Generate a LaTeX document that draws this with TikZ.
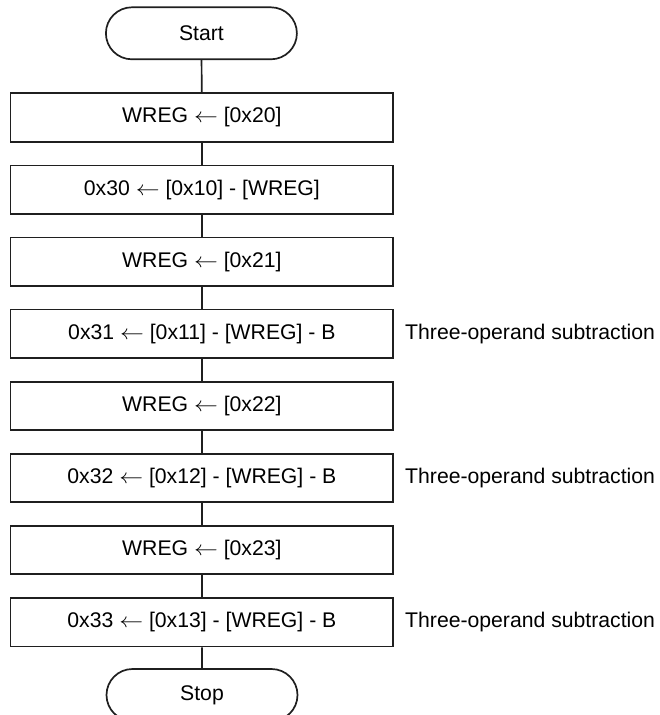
\documentclass[tikz,border=0pt]{standalone}
\usepackage{fontspec}
\usepackage{graphicx}
\setmainfont{Liberation Sans}
\usetikzlibrary{shapes.misc}
\tikzset{
  flowline/.style={line width=1.7pt, draw=black!88},
  opbox/.style={flowline, rectangle, minimum width=382.8pt, minimum height=48.4pt,
    inner sep=0pt, font=\fontsize{21.2}{25}\selectfont},
  terminal/.style={flowline, rounded rectangle, minimum width=191pt, minimum height=52pt,
    inner sep=0pt, font=\fontsize{21.2}{25}\selectfont},
  note/.style={anchor=west, inner sep=0pt, font=\fontsize{21.2}{25}\selectfont}
}
\newcommand{\asg}{ \scalebox{1.15}[1]{$\leftarrow$} }
\begin{document}
\begin{tikzpicture}[x=1pt,y=-1pt]
  \useasboundingbox (0,0) rectangle (659,715);
  \begin{scope}
  \clip (0,0) rectangle (659,715);
  \node[terminal] (start) at (201.4,33.3) {Start};
  \node[opbox] (b1) at (201.9,117.5) {WREG\asg[0x20]};
  \node[opbox] (b2) at (201.9,189.6) {0x30\asg[0x10] - [WREG]};
  \node[opbox] (b3) at (201.9,261.7) {WREG\asg[0x21]};
  \node[opbox] (b4) at (201.9,333.8) {0x31\asg[0x11] - [WREG] - B};
  \node[opbox] (b5) at (201.9,405.9) {WREG\asg[0x22]};
  \node[opbox] (b6) at (201.9,478.0) {0x32\asg[0x12] - [WREG] - B};
  \node[opbox] (b7) at (201.9,550.1) {WREG\asg[0x23]};
  \node[opbox] (b8) at (201.9,622.2) {0x33\asg[0x13] - [WREG] - B};
  \node[terminal] (stop) at (202,695) {Stop};

  \node[note] (n4) at (405,333.8) {Three-operand subtraction};
  \node[note] (n6) at (405,478.0) {Three-operand subtraction};
  \node[note] (n8) at (405,622.2) {Three-operand subtraction};

  \draw[flowline] (start) -- (b1);
  \foreach \a/\b in {b1/b2,b2/b3,b3/b4,b4/b5,b5/b6,b6/b7,b7/b8}
    \draw[flowline] (\a) -- (\b);
  \draw[flowline] (b8) -- (stop);
  \end{scope}
\end{tikzpicture}
\end{document}
